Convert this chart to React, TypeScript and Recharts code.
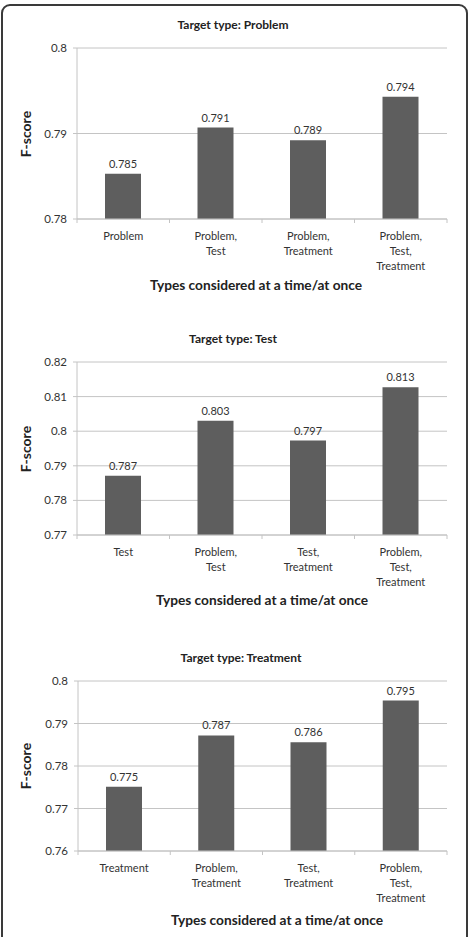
import React from "react";
import {
  BarChart,
  Bar,
  XAxis,
  YAxis,
  CartesianGrid,
  LabelList,
} from "recharts";

const problemCategories = ["Problem", "Problem, Test", "Problem, Treatment", "Problem, Test, Treatment"];
const problemScores = [0.7853, 0.7907, 0.7892, 0.7943];
const problemTicks = [0.78, 0.79, 0.8];

const testCategories = ["Test", "Problem, Test", "Test, Treatment", "Problem, Test, Treatment"];
const testScores = [0.7871, 0.803, 0.7973, 0.8127];
const testTicks = [0.77, 0.78, 0.79, 0.8, 0.81, 0.82];

const treatmentCategories = ["Treatment", "Problem, Treatment", "Test, Treatment", "Problem, Test, Treatment"];
const treatmentScores = [0.7751, 0.7872, 0.7856, 0.7954];
const treatmentTicks = [0.76, 0.77, 0.78, 0.79, 0.8];

const FONT = "Lato, 'Open Sans', sans-serif";
const GRID = "#c4c4c4";
const BAR = "#5e5e5e";

function CategoryTick(props: any) {
  const { x, y, payload, index, width, visibleTicksCount } = props;
  const band = width / (visibleTicksCount || 4);
  const parts = String(payload.value).split(", ");
  const lines = parts.map((p, i) => (i < parts.length - 1 ? p + "," : p));
  return (
    <g>
      <line x1={x - band / 2} x2={x - band / 2} y1={y} y2={y + 4} stroke={GRID} />
      {index === visibleTicksCount - 1 && (
        <line x1={x + band / 2} x2={x + band / 2} y1={y} y2={y + 4} stroke={GRID} />
      )}
      <text x={x} y={y} textAnchor="middle" fill="#333" fontSize={11} fontFamily={FONT}>
        {lines.map((l, i) => (
          <tspan key={i} x={x} dy={i === 0 ? 21 : 15}>
            {l}
          </tspan>
        ))}
      </text>
    </g>
  );
}

interface PanelProps {
  title: string;
  categories: string[];
  scores: number[];
  ticks: number[];
  titleY: number;
  titleX: number;
  plotTop: number;
  plotHeight: number;
  plotLeft: number;
  xTitleY: number;
  xTitleX: number;
}

function Panel({
  title,
  categories,
  scores,
  ticks,
  titleY,
  titleX,
  plotTop,
  plotHeight,
  plotLeft,
  xTitleY,
  xTitleX,
}: PanelProps) {
  const data = categories.map((c, i) => ({ name: c, value: scores[i] }));
  const top = 20;
  const axisH = 60;
  return (
    <>
      <div
        style={{
          position: "absolute",
          left: titleX - 150,
          width: 300,
          top: titleY - 8,
          height: 16,
          lineHeight: "16px",
          textAlign: "center",
          fontFamily: FONT,
          fontWeight: 700,
          fontSize: 12,
          color: "#222",
        }}
      >
        {title}
      </div>
      <div
        style={{
          position: "absolute",
          left: 26 - 40,
          width: 80,
          top: plotTop + plotHeight / 2 - 9,
          height: 18,
          lineHeight: "18px",
          textAlign: "center",
          transform: "rotate(-90deg)",
          fontFamily: FONT,
          fontWeight: 700,
          fontSize: 14,
          color: "#222",
        }}
      >
        F-score
      </div>
      <div
        style={{
          position: "absolute",
          left: xTitleX - 150,
          width: 300,
          top: xTitleY - 9,
          height: 18,
          lineHeight: "18px",
          textAlign: "center",
          fontFamily: FONT,
          fontWeight: 700,
          fontSize: 13.7,
          color: "#222",
        }}
      >
        Types considered at a time/at once
      </div>
      <div style={{ position: "absolute", left: 0, top: plotTop - top }}>
        <BarChart
          width={471}
          height={top + plotHeight + axisH}
          data={data}
          margin={{ top, right: 24, bottom: 0, left: 0 }}
        >
          <CartesianGrid vertical={false} stroke={GRID} />
          <XAxis
            dataKey="name"
            height={axisH}
            stroke={GRID}
            tickLine={false}
            tickSize={0}
            tickMargin={0}
            interval={0}
            tick={<CategoryTick />}
          />
          <YAxis
            width={plotLeft}
            domain={[ticks[0], ticks[ticks.length - 1]]}
            ticks={ticks}
            allowDataOverflow
            stroke={GRID}
            tickSize={4}
            tickMargin={6}
            tick={{ fill: "#333", fontSize: 11.5, fontFamily: FONT }}
          />
          <Bar dataKey="value" fill={BAR} barSize={36} isAnimationActive={false}>
            <LabelList
              dataKey="value"
              position="top"
              offset={6}
              formatter={(v: any) => Number(v).toFixed(3)}
              style={{ fill: "#333", fontSize: 11, fontFamily: FONT }}
            />
          </Bar>
        </BarChart>
      </div>
    </>
  );
}

export default function App() {
  return (
    <div
      style={{
        position: "absolute",
        left: 0,
        top: 0,
        width: 471,
        height: 937,
        overflow: "hidden",
        background: "#fff",
      }}
    >
      <div
        style={{
          position: "absolute",
          left: 1,
          top: 4,
          width: 463,
          height: 960,
          border: "2px solid #3a3a3a",
          borderRadius: 9,
        }}
      />
      <Panel
        title="Target type: Problem"
        categories={problemCategories}
        scores={problemScores}
        ticks={problemTicks}
        titleY={25}
        titleX={233}
        plotTop={48}
        plotHeight={171}
        plotLeft={77}
        xTitleY={285}
        xTitleX={256}
      />
      <Panel
        title="Target type: Test"
        categories={testCategories}
        scores={testScores}
        ticks={testTicks}
        titleY={339}
        titleX={233}
        plotTop={362}
        plotHeight={173}
        plotLeft={77}
        xTitleY={600}
        xTitleX={262}
      />
      <Panel
        title="Target type: Treatment"
        categories={treatmentCategories}
        scores={treatmentScores}
        ticks={treatmentTicks}
        titleY={658}
        titleX={241}
        plotTop={681}
        plotHeight={170}
        plotLeft={78}
        xTitleY={920}
        xTitleX={277}
      />
    </div>
  );
}
